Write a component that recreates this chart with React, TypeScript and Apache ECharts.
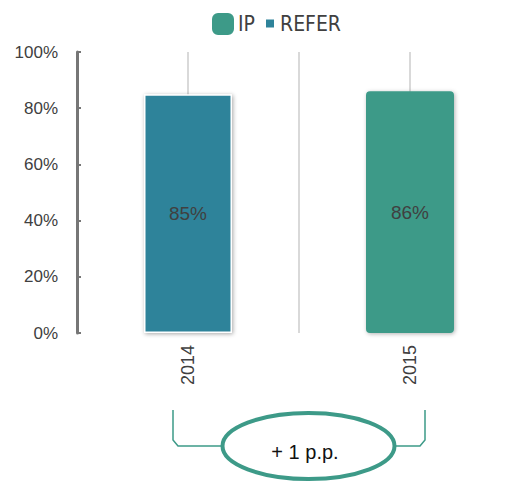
import React, { useEffect, useRef } from "react";
import * as echarts from "echarts";

const categories = ["2014", "2015"];
const referValues: (number | string)[] = [0.85, "-"];
const ipValues: (number | string)[] = ["-", 0.86];
const annotationText = "+ 1 p.p.";

const BLUE = "#2F839A";
const GREEN = "#3D9A88";
const TEXT = "#404040";
const FONT = "Liberation Sans";
const NARROW = "'Liberation Sans Narrow', 'DejaVu Sans Condensed', 'Liberation Sans'";

export default function App() {
  const ref = useRef<HTMLDivElement>(null);
  useEffect(() => {
    if (!ref.current) return;
    const chart = echarts.init(ref.current, null, { renderer: "svg" });
    const pct = (v: number) => `${Math.round(v * 100)}%`;
    chart.setOption({
      animation: false,
      textStyle: { fontFamily: FONT },
      legend: [
        {
          data: [{ name: "IP", icon: "roundRect" }],
          left: 207,
          top: 8,
          itemWidth: 20,
          itemHeight: 20,
          selectedMode: false,
          textStyle: { fontSize: 21, color: TEXT, fontFamily: NARROW },
        },
        {
          data: [{ name: "REFER", icon: "rect" }],
          left: 259,
          top: 8,
          itemWidth: 10,
          itemHeight: 10,
          selectedMode: false,
          textStyle: { fontSize: 21, color: TEXT, fontFamily: NARROW },
        },
      ],
      grid: { left: 77, top: 52, width: 444, bottom: 148, containLabel: false },
      xAxis: [
        {
          type: "category",
          data: categories,
          axisLine: { show: false },
          axisTick: { show: false },
          splitLine: { show: false },
          axisLabel: {
            rotate: 90,
            color: TEXT,
            fontSize: 18,
            fontFamily: FONT,
            margin: 12,
          },
        },
        {
          type: "value",
          min: 0,
          max: 2,
          interval: 0.5,
          position: "top",
          axisLine: { show: false },
          axisTick: { show: false },
          axisLabel: { show: false },
          splitLine: { show: true, lineStyle: { color: "#d9d9d9", width: 2 } },
        },
      ],
      yAxis: {
        type: "value",
        min: 0,
        max: 1,
        interval: 0.2,
        axisLine: { show: true, lineStyle: { color: "#767676", width: 3 } },
        axisTick: { show: true, inside: true, length: 4, lineStyle: { color: "#767676", width: 2 } },
        splitLine: { show: false },
        axisLabel: { formatter: pct, color: TEXT, fontSize: 17, fontFamily: FONT, margin: 19 },
      },
      series: [
        {
          name: "REFER",
          type: "bar",
          stack: "s",
          barWidth: 88,
          data: referValues,
          itemStyle: {
            color: BLUE,
            borderColor: "#ffffff",
            borderWidth: 1.5,
            shadowBlur: 4,
            shadowColor: "rgba(0,0,0,0.35)",
            shadowOffsetX: 1,
            shadowOffsetY: 1,
          },
          label: {
            show: true,
            position: "inside",
            formatter: (p: any) => pct(p.value),
            color: TEXT,
            fontSize: 19,
            fontFamily: FONT,
          },
        },
        {
          name: "IP",
          type: "bar",
          stack: "s",
          barWidth: 88,
          data: ipValues,
          itemStyle: {
            color: GREEN,
            borderColor: GREEN,
            borderWidth: 6,
            borderRadius: 1,
            shadowBlur: 4,
            shadowColor: "rgba(0,0,0,0.3)",
            shadowOffsetX: 1,
            shadowOffsetY: 1,
          },
          label: {
            show: true,
            position: "inside",
            formatter: (p: any) => pct(p.value),
            color: TEXT,
            fontSize: 19,
            fontFamily: FONT,
          },
        },
      ],
      graphic: [
        {
          type: "polyline",
          shape: { points: [[173, 410], [173, 440], [178, 446], [222, 446]] },
          style: { stroke: GREEN, lineWidth: 1.5, fill: "none" },
          z: 10,
        },
        {
          type: "polyline",
          shape: { points: [[425, 410], [425, 440], [420, 446], [395, 446]] },
          style: { stroke: GREEN, lineWidth: 1.5, fill: "none" },
          z: 10,
        },
        {
          type: "ellipse",
          shape: { cx: 308.5, cy: 446, rx: 86, ry: 33 },
          style: { stroke: GREEN, lineWidth: 4, fill: "#ffffff" },
          z: 11,
        },
        {
          type: "text",
          x: 305,
          y: 452,
          style: {
            text: annotationText,
            fill: "#111111",
            font: `20px ${FONT}`,
            align: "center",
            verticalAlign: "middle",
          },
          z: 12,
        },
      ],
    });
    return () => chart.dispose();
  }, []);
  return (
    <div
      ref={ref}
      style={{ position: "fixed", left: 0, top: 0, width: 530, height: 481, background: "#ffffff" }}
    />
  );
}
